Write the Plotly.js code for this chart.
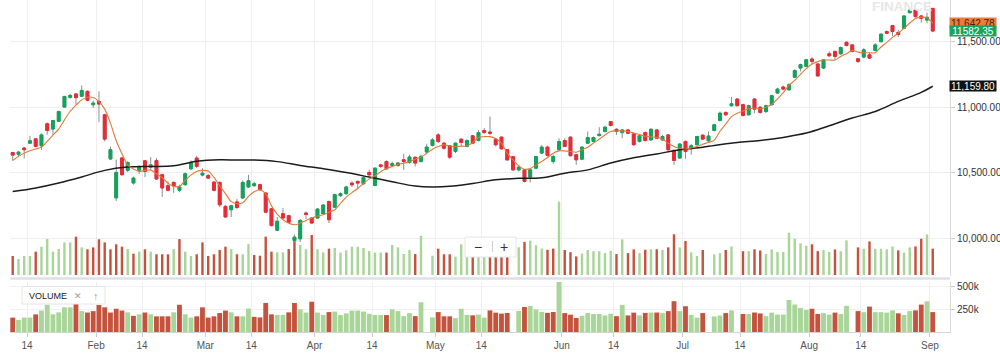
<!DOCTYPE html>
<html><head><meta charset="utf-8">
<script src="https://cdn.plot.ly/plotly-3.0.1.min.js"></script>
<style>html,body{margin:0;padding:0;background:#fff;}#chart{width:1000px;height:355px;}</style>
</head><body><div id="chart"></div>
<script>
// ---- data (NIFTY-style daily candles, trading days only) ----
const dates = [
'2018-01-10','2018-01-11','2018-01-12','2018-01-15','2018-01-16','2018-01-17','2018-01-18','2018-01-19','2018-01-22','2018-01-23','2018-01-24','2018-01-25','2018-01-29','2018-01-30','2018-01-31',
'2018-02-01','2018-02-02','2018-02-05','2018-02-06','2018-02-07','2018-02-08','2018-02-09','2018-02-12','2018-02-14','2018-02-15','2018-02-16','2018-02-19','2018-02-20','2018-02-21','2018-02-22','2018-02-23','2018-02-26','2018-02-27','2018-02-28',
'2018-03-01','2018-03-05','2018-03-06','2018-03-07','2018-03-08','2018-03-09','2018-03-12','2018-03-13','2018-03-14','2018-03-15','2018-03-16','2018-03-19','2018-03-20','2018-03-21','2018-03-22','2018-03-23','2018-03-26','2018-03-27','2018-03-28',
'2018-04-02','2018-04-03','2018-04-04','2018-04-05','2018-04-06','2018-04-09','2018-04-10','2018-04-11','2018-04-12','2018-04-13','2018-04-16','2018-04-17','2018-04-18','2018-04-19','2018-04-20','2018-04-23','2018-04-24','2018-04-25','2018-04-26','2018-04-27','2018-04-30',
'2018-05-02','2018-05-03','2018-05-04','2018-05-07','2018-05-08','2018-05-09','2018-05-10','2018-05-11','2018-05-14','2018-05-15','2018-05-16','2018-05-17','2018-05-18','2018-05-21','2018-05-22','2018-05-23','2018-05-24','2018-05-25','2018-05-28','2018-05-29','2018-05-30','2018-05-31',
'2018-06-01','2018-06-04','2018-06-05','2018-06-06','2018-06-07','2018-06-08','2018-06-11','2018-06-12','2018-06-13','2018-06-14','2018-06-15','2018-06-18','2018-06-19','2018-06-20','2018-06-21','2018-06-22','2018-06-25','2018-06-26','2018-06-27','2018-06-28','2018-06-29',
'2018-07-02','2018-07-03','2018-07-04','2018-07-05','2018-07-06','2018-07-09','2018-07-10','2018-07-11','2018-07-12','2018-07-13','2018-07-16','2018-07-17','2018-07-18','2018-07-19','2018-07-20','2018-07-23','2018-07-24','2018-07-25','2018-07-26','2018-07-27','2018-07-30','2018-07-31',
'2018-08-01','2018-08-02','2018-08-03','2018-08-06','2018-08-07','2018-08-08','2018-08-09','2018-08-10','2018-08-13','2018-08-14','2018-08-16','2018-08-17','2018-08-20','2018-08-21','2018-08-23','2018-08-24','2018-08-27','2018-08-28','2018-08-29','2018-08-30','2018-08-31',
'2018-09-03'];

const openP = [
10654,10641,10688,10725,10758,10705,10873,10833,10892,11001,11075,11101,11083,11121,11019,
11044,10942,10604,10307,10612,10518,10421,10519,10590,10542,10592,10484,10400,10425,10365,10408,10529,10611,10481,
10478,10428,10425,10242,10216,10276,10306,10390,10400,10408,10344,10224,10060,10186,10171,9981,9994,10191,10153,
10153,10186,10279,10236,10324,10339,10420,10433,10415,10501,10402,10559,10585,10555,10555,10598,10578,10617,10585,10657,10707,
10788,10725,10705,10662,10755,10700,10781,10745,10822,10810,10755,10771,10675,10622,10521,10521,10466,10534,10649,10695,10585,10675,
10745,10771,10637,10603,10725,10738,10783,10815,10890,10831,10806,10826,10796,10738,10806,10750,10826,10750,10788,10670,10611,
10738,10682,10713,10786,10743,10822,10899,10960,11011,11062,11019,10942,11062,11000,10967,11019,11108,11154,11133,11229,11299,11312,
11368,11330,11299,11408,11426,11408,11496,11476,11370,11383,11400,11433,11501,11578,11624,11571,11603,11722,11742,11697,11666,
11755];

const highP = [
10657,10666,10693,10781,10763,10801,10883,10903,10972,11086,11101,11105,11166,11128,11051,
11121,10950,10700,10599,10617,10589,10471,10556,10597,10618,10611,10491,10433,10433,10408,10501,10593,10628,10534,
10489,10433,10433,10254,10254,10299,10440,10483,10430,10415,10349,10229,10161,10229,10178,10027,10145,10203,10161,
10229,10259,10287,10339,10349,10400,10433,10438,10471,10521,10539,10568,10594,10585,10583,10644,10637,10624,10637,10720,10763,
10801,10730,10712,10730,10763,10755,10788,10826,10840,10929,10763,10776,10680,10628,10559,10526,10529,10628,10712,10705,10637,10763,
10763,10776,10642,10700,10814,10776,10847,10857,10895,10839,10831,10834,10801,10788,10814,10839,10831,10788,10793,10675,10725,
10745,10720,10781,10793,10815,10873,10967,10967,11078,11070,11026,11019,11070,11005,11019,11095,11148,11164,11184,11290,11332,11366,
11383,11337,11368,11426,11433,11464,11501,11484,11375,11451,11413,11489,11565,11586,11629,11591,11704,11755,11747,11704,11722,
11755];

const lowP = [
10593,10618,10608,10720,10693,10675,10790,10790,10890,10996,11065,11020,11078,11045,10994,
10884,10738,10599,10282,10476,10503,10408,10489,10466,10521,10446,10314,10357,10345,10350,10400,10521,10534,10471,
10451,10357,10237,10153,10161,10221,10302,10382,10394,10362,10191,10090,10052,10145,10115,9969,9969,10145,10108,
10145,10178,10115,10231,10314,10332,10390,10375,10408,10476,10395,10534,10521,10547,10545,10521,10568,10547,10577,10649,10700,
10725,10675,10603,10649,10700,10693,10718,10738,10796,10788,10700,10675,10592,10514,10509,10425,10425,10526,10642,10623,10568,10667,
10695,10624,10560,10598,10718,10730,10776,10806,10852,10788,10763,10793,10705,10730,10738,10745,10755,10743,10667,10560,10606,
10606,10637,10708,10748,10736,10815,10891,10934,11006,11006,10929,10937,10954,10950,10954,11011,11103,11128,11128,11222,11273,11304,
11325,11234,11292,11383,11362,11400,11464,11418,11337,11375,11368,11426,11494,11558,11545,11535,11596,11717,11684,11646,11641,
11573];

const closeP = [
10634,10656,10675,10743,10700,10788,10822,10898,10967,11082,11090,11073,11128,11053,11031,
11024,10756,10675,10501,10484,10577,10458,10540,10509,10559,10451,10383,10365,10400,10390,10491,10578,10547,10496,
10458,10365,10254,10161,10247,10234,10425,10438,10415,10370,10198,10095,10128,10153,10120,10006,10135,10181,10115,
10221,10252,10140,10332,10339,10390,10407,10420,10463,10483,10534,10547,10529,10568,10573,10585,10619,10573,10624,10695,10750,
10738,10687,10618,10725,10730,10745,10725,10806,10806,10801,10713,10682,10597,10521,10541,10433,10521,10623,10695,10632,10623,10738,
10700,10629,10598,10695,10768,10768,10793,10847,10860,10814,10826,10801,10713,10781,10745,10831,10763,10776,10675,10593,10718,
10662,10705,10776,10756,10780,10865,10954,10942,11026,11011,10937,11011,10985,10960,11011,11088,11138,11138,11171,11280,11325,11362,
11350,11239,11362,11393,11388,11456,11471,11426,11350,11438,11375,11476,11558,11565,11578,11555,11697,11742,11692,11679,11687,
11582.35];

// volume in thousands (null = no volume reported)
const volumeK = [
160,134,160,160,196,238,302,196,218,274,274,322,232,216,232,
300,274,216,258,238,218,179,196,216,196,174,174,174,218,302,196,160,174,274,
160,174,210,238,218,174,174,260,168,162,322,196,190,190,218,322,252,216,336,
216,190,221,227,188,207,238,238,227,202,188,188,188,252,232,176,210,176,330,null,162,
221,174,174,154,258,190,185,192,159,240,215,204,211,null,233,278,289,250,222,212,222,616,
210,192,156,180,210,200,200,184,203,176,299,184,215,184,212,216,216,210,232,342,232,
286,191,160,210,null,173,183,210,240,null,200,200,216,206,176,215,193,193,355,305,266,246,
258,200,210,193,215,200,291,null,232,220,282,220,220,215,240,207,189,232,240,304,341,
221];

// short moving average (orange), one value per trading day
const maShort = [
10593,10624,10649,10667,10680,10695,10738,10786,10832,10903,10969,11015,11056,11076,11074,
11043,10985,10878,10743,10644,10557,10527,10509,10517,10519,10491,10461,10420,10395,10395,10441,10481,10509,10517,
10512,10463,10400,10339,10278,10262,10269,10318,10353,10369,10338,10246,10183,10140,10114,10102,10114,10135,10152,
10168,10178,10196,10216,10264,10313,10348,10379,10417,10452,10475,10506,10531,10547,10562,10572,10582,10603,10618,10648,10679,
10699,10712,10704,10699,10702,10704,10730,10768,10775,10775,10760,10725,10648,10597,10552,10526,10531,10559,10585,10615,10648,10666,
10666,10661,10656,10674,10694,10725,10755,10788,10814,10819,10819,10814,10803,10791,10778,10773,10770,10755,10725,10699,10686,
10681,10689,10699,10717,10730,10748,10816,10870,10928,10954,10971,10987,10992,10987,11000,11022,11063,11111,11167,11205,11251,11294,
11330,11348,11360,11360,11360,11388,11409,11434,11421,11416,11416,11416,11460,11495,11533,11566,11602,11643,11678,11688,11683,
11642.78];

// long moving average (black), read at sampled dates
const maLongDates = ['2018-01-10','2018-01-16','2018-01-22','2018-01-29','2018-02-02','2018-02-08','2018-02-15','2018-02-21','2018-02-27','2018-03-06','2018-03-09','2018-03-14','2018-03-20','2018-03-26','2018-04-03','2018-04-09','2018-04-13','2018-04-19','2018-04-25','2018-04-30','2018-05-04','2018-05-10','2018-05-16','2018-05-22','2018-05-28','2018-06-01','2018-06-07','2018-06-13','2018-06-19','2018-06-25','2018-06-29','2018-07-05','2018-07-09','2018-07-13','2018-07-19','2018-07-25','2018-07-31','2018-08-06','2018-08-10','2018-08-17','2018-08-24','2018-08-30','2018-09-03'];
const maLong = [10355,10383,10421,10467,10517,10542,10547,10552,10586,10598,10596,10596,10584,10555,10530,10501,10466,10430,10397,10390,10395,10417,10445,10456,10461,10496,10521,10573,10613,10643,10674,10694,10708,10730,10745,10769,10802,10858,10917,10967,11044,11113,11159.80];

const tickDates = ['2018-01-15','2018-02-01','2018-02-14','2018-03-01','2018-03-14','2018-04-02','2018-04-16','2018-05-02','2018-05-14','2018-06-01','2018-06-14','2018-07-02','2018-07-16','2018-08-01','2018-08-14','2018-09-03'];
const tickLabels = ['14','Feb','14','Mar','14','Apr','14','May','14','Jun','14','Jul','14','Aug','14','Sep'];
const priceTicks = [10000,10500,11000,11500];
const volTicks = [250,500];
const volTickLabels = ['250k','500k'];

// ---- drawing ----
const idx = dates.map((d,i)=>i);
const pos = d => dates.indexOf(d);
const tickPos = tickDates.map(d => pos(d) - 0.5);

const UP='#10a45b', DOWN='#ec2a34', WICK='#8d8d8d';
const VUP='#a8d598', VDOWN='#c4523c';
const volColors = closeP.map((c,i)=> ((i===0 ? c>=openP[0] : c>=closeP[i-1]) ? VUP : VDOWN));
const bodyHigh = openP.map((o,i)=>Math.max(o,closeP[i]));
const bodyLow = openP.map((o,i)=>Math.min(o,closeP[i]));

const L=10, R=50, T=0, B=23, PW=1000-L-R, PH=355-T-B;
const px = x => (x-L)/PW;
const py = y => (T+PH-y)/PH;

const XR=[-0.47,163.0];
const mainBottom = py(276);

const data = [
 {type:'bar', x:idx, y:volumeK, xaxis:'x', yaxis:'y', width:0.42, marker:{color:volColors, line:{width:0}}},
 {type:'bar', x:idx, y:volumeK, xaxis:'x2', yaxis:'y2', width:0.84, marker:{color:volColors, line:{width:0}}},
 {type:'candlestick', x:idx, open:openP, high:highP, low:lowP, close:closeP, xaxis:'x', yaxis:'y3', whiskerwidth:0,
  increasing:{line:{color:WICK,width:1}, fillcolor:WICK}, decreasing:{line:{color:WICK,width:1}, fillcolor:WICK}},
 {type:'candlestick', x:idx, open:openP, high:bodyHigh, low:bodyLow, close:closeP, xaxis:'x', yaxis:'y3', whiskerwidth:0,
  increasing:{line:{color:UP,width:1}, fillcolor:UP}, decreasing:{line:{color:DOWN,width:1}, fillcolor:DOWN}},
 {type:'scatter', mode:'lines', x:maLongDates.map(pos), y:maLong, xaxis:'x', yaxis:'y3', line:{color:'#1c1c1c', width:1.5, shape:'spline', smoothing:1}},
 {type:'scatter', mode:'lines', x:idx, y:maShort, xaxis:'x', yaxis:'y3', line:{color:'#dd7a3c', width:1.1, shape:'spline', smoothing:0.8}}
];

const fmtC = v => v.toLocaleString('en-US',{minimumFractionDigits:2,maximumFractionDigits:2});
const lastShort = maShort[maShort.length-1], lastLong = maLong[maLong.length-1], lastClose = closeP[closeP.length-1];
const tag = (v, txt, bg, fc) => ({xref:'paper', x:1, xanchor:'left', xshift:-1, yref:'y3', y:v, yanchor:'middle', text:txt, showarrow:false,
  bgcolor:bg, font:{size:10, color:fc, family:'Liberation Sans, Arial, sans-serif'}, width:46, height:10, borderpad:0, align:'center'});

const grey = '#9a9a9a';
const note = (x, y, text, font) => ({xref:'paper', yref:'paper', x:px(x), y:py(y), xanchor:'center', yanchor:'middle', text:text, showarrow:false, font:font});
const annotations = [
 tag(lastShort, fmtC(lastShort), '#ee7b3a', '#3a2418'),
 tag(lastLong, fmtC(lastLong), '#111111', '#ffffff'),
 tag(lastClose, lastClose.toFixed(2), '#17a45c', '#ffffff'),
 note(902, 6, '<b>FINANCE</b>', {size:13.5, color:'#e7e7e7'}),
 note(47.5, 295.5, 'VOLUME', {size:9, color:'#1a1a1a'}),
 note(78, 295.5, '✕', {size:9, color:grey}),
 note(96, 295.5, '↑', {size:11, color:grey}),
 note(478, 246.5, '−', {size:14, color:'#333'}),
 note(503.5, 246.5, '+', {size:14, color:'#333'})
];

const shapes = [
 {type:'line', xref:'paper', yref:'paper', x0:0, x1:1, y0:py(278.5), y1:py(278.5), line:{color:'#dde1e6', width:2.5}, layer:'above'},
 {type:'rect', xref:'paper', yref:'paper', x0:px(22), x1:px(105), y0:py(304), y1:py(286.5), fillcolor:'#ffffff', line:{color:'#e4e4e4', width:1}, layer:'above'},
 {type:'rect', xref:'paper', yref:'paper', x0:px(465), x1:px(516), y0:py(257), y1:py(237), fillcolor:'#ffffff', line:{color:'#e4e4e4', width:1}, layer:'above'},
 {type:'line', xref:'paper', yref:'paper', x0:px(492.5), x1:px(492.5), y0:py(252), y1:py(241), line:{color:'#cfcfcf', width:1}, layer:'above'}
];

const tickFont = {size:10, color:'#333', family:'Liberation Sans, Arial, sans-serif'};
const layout = {
 width:1000, height:355, margin:{l:L, r:R, t:T, b:B},
 paper_bgcolor:'#ffffff', plot_bgcolor:'#ffffff', showlegend:false, hovermode:false, dragmode:false,
 font:{family:'Liberation Sans, Arial, sans-serif', size:10, color:'#333'},
 xaxis:{domain:[0,1], anchor:'y', range:XR, tickmode:'array', tickvals:tickPos, showticklabels:false, ticks:'',
   showgrid:true, gridcolor:'#eeeeee', gridwidth:1, zeroline:false, showline:false, rangeslider:{visible:false}},
 xaxis2:{domain:[0,1], anchor:'y2', range:XR, tickmode:'array', tickvals:tickPos, ticktext:tickLabels,
   showgrid:true, gridcolor:'#eeeeee', ticks:'outside', ticklen:4, tickcolor:'#cccccc', showline:true, linecolor:'#d3d3d3',
   zeroline:false, tickfont:{size:10, color:'#555', family:'Liberation Sans, Arial, sans-serif'}, rangeslider:{visible:false}},
 yaxis:{domain:[mainBottom,1], anchor:'x', range:[-8.4, 2310], visible:false, showgrid:false, zeroline:false},
 yaxis3:{overlaying:'y', anchor:'x', side:'right', range:[9710,11819], tickmode:'array', tickvals:priceTicks, tickformat:',.2f',
   showgrid:true, gridcolor:'#eeeeee', ticks:'outside', ticklen:4, tickcolor:'#cccccc', showline:true, linecolor:'#d9d9d9',
   zeroline:false, tickfont:tickFont},
 yaxis2:{domain:[0,py(282)], anchor:'x2', side:'right', range:[0,555], tickmode:'array', tickvals:volTicks, ticktext:volTickLabels,
   showgrid:true, gridcolor:'#f1f1f1', ticks:'outside', ticklen:4, tickcolor:'#cccccc', showline:true, linecolor:'#d9d9d9',
   zeroline:false, tickfont:tickFont},
 shapes:shapes, annotations:annotations
};

Plotly.newPlot('chart', data, layout, {staticPlot:true, displayModeBar:false});
</script>
</body></html>
